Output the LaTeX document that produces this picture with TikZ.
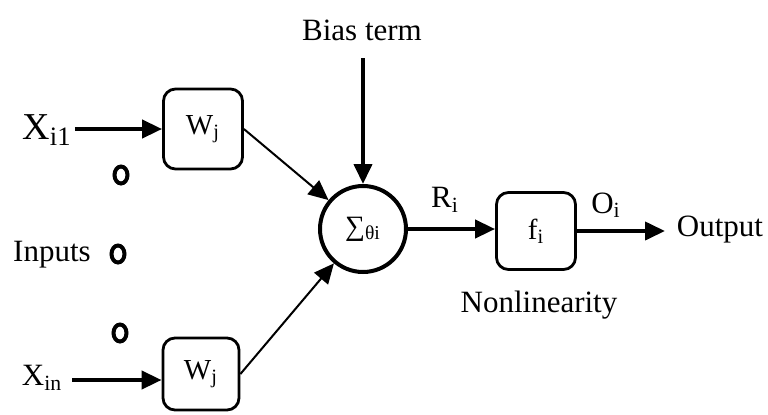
\documentclass[tikz,border=0pt]{standalone}
\usepackage{fontspec}
\setmainfont{Liberation Serif}
\usetikzlibrary{arrows.meta,shapes.geometric}
\tikzset{
  lbl/.style={inner sep=0pt, font=\fontsize{15.5pt}{18pt}\selectfont},
  wbox/.style={draw, line width=1.4pt, rounded corners=6pt, inner sep=0pt,
               font=\fontsize{14.5pt}{17pt}\selectfont},
  sumnode/.style={draw, circle, line width=2pt, minimum size=43pt, inner sep=0pt,
                  font=\fontsize{14pt}{16pt}\selectfont},
  dot/.style={draw, ellipse, line width=2pt, minimum width=6.5pt, minimum height=8.5pt, inner sep=0pt},
  thick arrow/.style={line width=2pt, -{Triangle[length=10pt,width=9pt]}},
  thin arrow/.style={line width=1pt, -{Triangle[length=10pt,width=9pt]}}
}
\begin{document}
\begin{tikzpicture}[x=0.5pt,y=-0.5pt]
\useasboundingbox (0,0) rectangle (768,414);

% input labels and ellipsis dots
\node[lbl, font=\fontsize{19pt}{22pt}\selectfont] (x1) at (47,130) {X\textsubscript{i1}};
\node[lbl] (xn) at (42,378) {X\textsubscript{in}};
\node[lbl] (inp) at (52,255) {Inputs};
\node[dot] (d1) at (121,175) {};
\node[dot] (d2) at (118,254) {};
\node[dot] (d3) at (120,333) {};
\coordinate (xnstart) at (72,380);

% weight boxes
\node[wbox, minimum width=39.5pt, minimum height=40pt] (w1) at (203,129) {W\textsubscript{j}};
\node[wbox, minimum width=38pt, minimum height=36pt] (w2) at (201,374) {W\textsubscript{j}};

% summation unit and bias
\node[sumnode] (sig) at (363,229) {∑\textsubscript{θi}};
\node[lbl] (bias) at (362,30) {Bias term};
\coordinate (biasstart) at (363,58);

% nonlinearity and output
\node[wbox, minimum width=39.5pt, minimum height=38.5pt] (f) at (536,231) {f\textsubscript{i}};
\node[lbl] (nonlin) at (539,305) {Nonlinearity};
\node[lbl] (ri) at (445,200) {R\textsubscript{i}};
\node[lbl] (oi) at (606,205) {O\textsubscript{i}};
\node[lbl] (out) at (720,230) {Output};
\coordinate (outend) at (665,232);

% connectors
\draw[thick arrow] (x1.east |- w1.west) ++(3,0) -- (w1.west);
\draw[thick arrow] (xnstart) -- (w2.west |- xnstart);
\draw[thin arrow] (w1.east) -- (sig);
\draw[thin arrow] (w2.east) -- (sig);
\draw[thick arrow] (biasstart) -- (sig.north);
\draw[thick arrow] (sig.east) -- (f.west |- sig.east);
\draw[thick arrow] (f.east) -- (outend |- f.east);
\end{tikzpicture}
\end{document}
